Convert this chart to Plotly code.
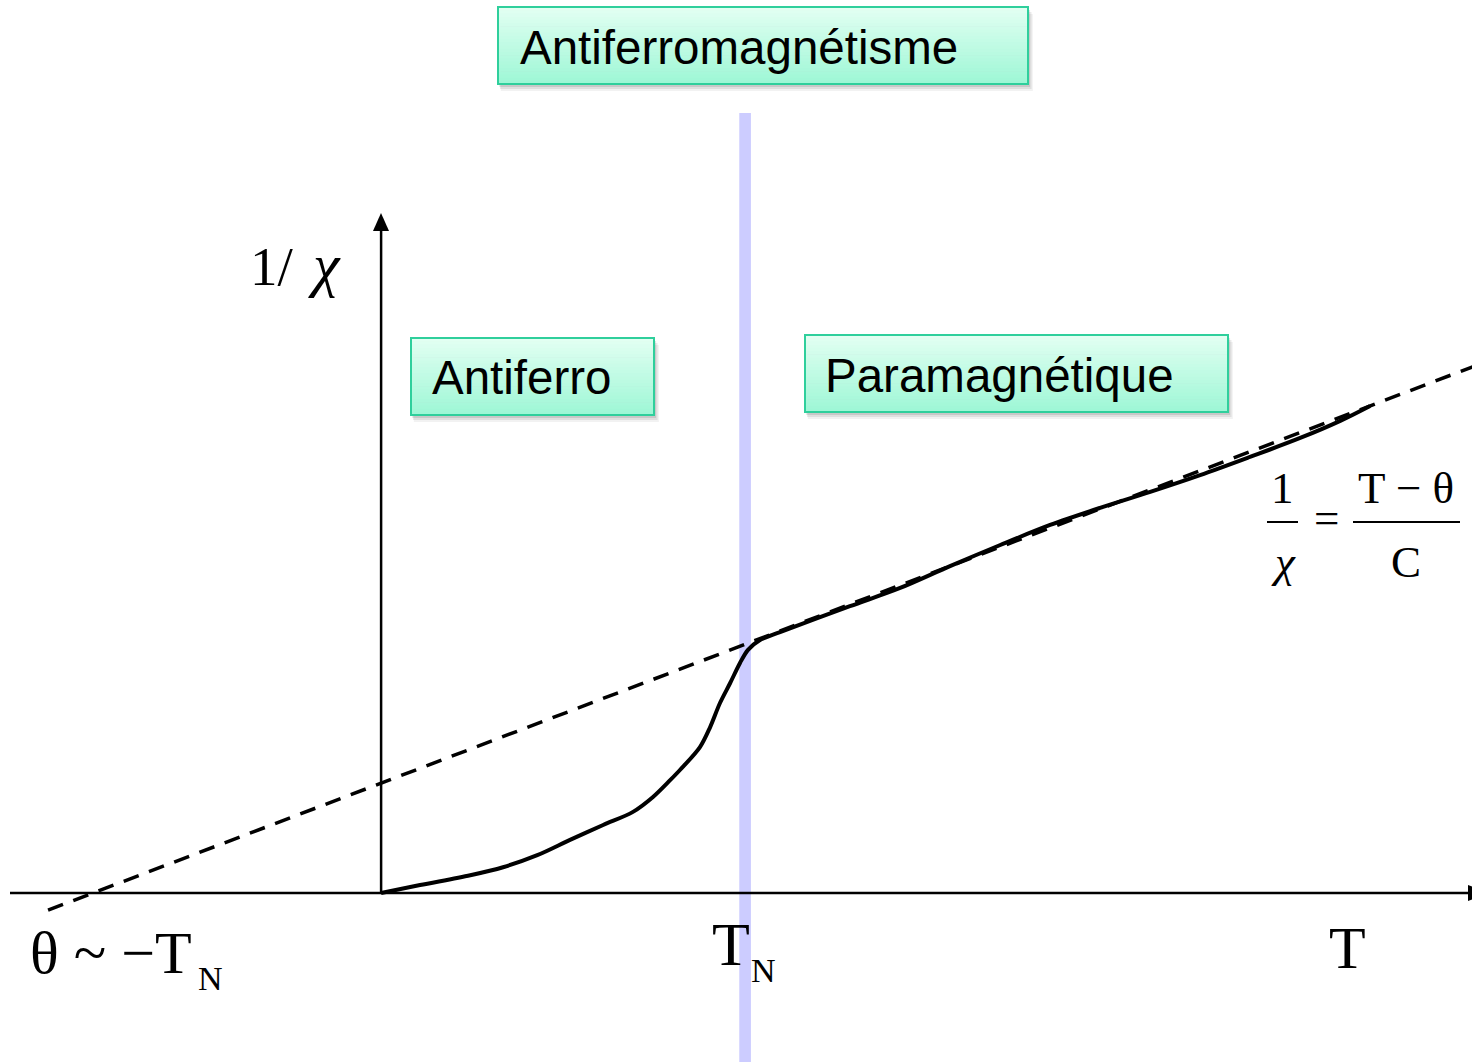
import plotly.graph_objects as go

# ---------------- data (T in units of T_N, 1/chi in arbitrary units) ----------------
T_curve = [0.0, 0.107, 0.245, 0.335, 0.429, 0.519, 0.610, 0.692, 0.747, 0.794, 0.821,
           0.876, 0.904, 0.931, 0.959, 0.986, 1.008, 1.041, 1.096, 1.288, 1.426, 1.563,
           1.701, 1.838, 1.975, 2.113, 2.250, 2.387, 2.525, 2.635, 2.717]
inv_chi_curve = [0.0, 0.022, 0.049, 0.071, 0.104, 0.146, 0.187, 0.223, 0.264, 0.310, 0.338,
                 0.401, 0.456, 0.522, 0.577, 0.632, 0.668, 0.695, 0.717, 0.788, 0.838, 0.898,
                 0.956, 1.011, 1.058, 1.102, 1.148, 1.198, 1.250, 1.297, 1.338]

# Curie-Weiss asymptote (end points)
T_cw = [-0.915, 3.0]
inv_chi_cw = [-0.047, 1.446]

T_N = 1.0

# ---------------- layout helpers ----------------
W, H = 1472, 1062
X_RANGE = [-1.047, 2.997]
Y_RANGE = [-0.464, 2.453]


def PX(x):
    return x / W


def PY(y):
    return 1 - y / H


SANS = "Liberation Sans, Arial, sans-serif"
SERIF = "Liberation Serif, Times New Roman, serif"

fig = go.Figure()

fig.add_trace(go.Scatter(x=T_cw, y=inv_chi_cw, mode="lines",
                         line=dict(color="black", width=3.5, dash="16px,11px"),
                         hoverinfo="skip"))
fig.add_trace(go.Scatter(x=T_curve, y=inv_chi_curve, mode="lines",
                         line=dict(color="black", width=4, shape="spline", smoothing=0.9),
                         hoverinfo="skip"))

shapes = []
annotations = []

# T_N band
shapes.append(dict(type="rect", xref="x", yref="paper",
                   x0=T_N - 0.016, x1=T_N + 0.016, y0=0, y1=PY(113),
                   fillcolor="#ccccff", line=dict(width=0), layer="below"))

# axes
shapes.append(dict(type="line", xref="paper", yref="y", x0=PX(10), x1=PX(1470), y0=0, y1=0,
                   line=dict(color="black", width=2.5), layer="above"))
shapes.append(dict(type="path", xref="paper", yref="paper",
                   path=f"M {PX(1468)} {PY(885)} L {PX(1490)} {PY(893)} L {PX(1468)} {PY(901)} Z",
                   fillcolor="black", line=dict(width=0), layer="above"))
shapes.append(dict(type="line", xref="x", yref="paper", x0=0, x1=0, y0=PY(893), y1=PY(228),
                   line=dict(color="black", width=2.5), layer="above"))
shapes.append(dict(type="path", xref="paper", yref="paper",
                   path=f"M {PX(373)} {PY(231)} L {PX(381)} {PY(213)} L {PX(389)} {PY(231)} Z",
                   fillcolor="black", line=dict(width=0), layer="above"))


def lerp(c1, c2, t):
    return tuple(round(a + (b - a) * t) for a, b in zip(c1, c2))


def add_box(x0, y0, x1, y1, text, tx, ty):
    for off, a in [(7, 0.05), (5, 0.08), (3, 0.10)]:
        shapes.append(dict(type="rect", xref="paper", yref="paper",
                           x0=PX(x0 + off * 0.4), x1=PX(x1 + off * 0.7),
                           y0=PY(y1 + off), y1=PY(y0 + off),
                           fillcolor=f"rgba(0,0,0,{a})", line=dict(width=0), layer="above"))
    top, bot = (226, 255, 242), (158, 247, 214)
    n = 24
    for i in range(n):
        c = lerp(top, bot, i / (n - 1))
        ya = y0 + (y1 - y0) * i / n
        yb = y0 + (y1 - y0) * (i + 1) / n + 0.6
        shapes.append(dict(type="rect", xref="paper", yref="paper",
                           x0=PX(x0), x1=PX(x1), y0=PY(min(yb, y1)), y1=PY(ya),
                           fillcolor=f"rgb{c}", line=dict(width=0), layer="above"))
    shapes.append(dict(type="rect", xref="paper", yref="paper",
                       x0=PX(x0), x1=PX(x1), y0=PY(y1), y1=PY(y0),
                       fillcolor="rgba(0,0,0,0)", line=dict(color="#2fcf9c", width=2),
                       layer="above"))
    annotations.append(dict(text=text, xref="paper", yref="paper", x=PX(tx), y=PY(ty),
                            xanchor="left", yanchor="middle", showarrow=False,
                            font=dict(family=SANS, size=47.5, color="black")))


add_box(498, 7, 1028, 84, "Antiferromagnétisme", 518, 47)
add_box(411, 338, 654, 415, "Antiferro", 430, 377)
add_box(805, 335, 1228, 412, "Paramagnétique", 823, 376)


def serif(text, x, y, size, xanchor="left"):
    annotations.append(dict(text=text, xref="paper", yref="paper", x=PX(x), y=PY(y),
                            xanchor=xanchor, yanchor="middle", showarrow=False,
                            font=dict(family=SERIF, size=size, color="black")))


# labels (y given as text box centre = baseline - 0.34*size)
serif("1/", 248, 285 - 0.34 * 55, 55)
serif("<i>χ</i>", 306, 285 - 0.34 * 60, 60)
serif("θ ~ −T", 28, 973 - 0.34 * 60, 60)
serif("N", 196, 990 - 0.34 * 34, 34)
serif("T", 731, 965 - 0.34 * 62, 62, "center")
serif("N", 749, 982 - 0.34 * 34, 34)
serif("T", 1347, 968 - 0.34 * 60, 60, "center")

# formula 1/chi = (T - theta)/C
serif("1", 1282, 503 - 0.34 * 45, 45, "center")
serif("<i>χ</i>", 1283, 577 - 0.34 * 45, 45, "center")
serif("=", 1326, 533 - 0.34 * 45, 45, "center")
serif("T − θ", 1406, 503 - 0.34 * 45, 45, "center")
serif("C", 1406, 577 - 0.34 * 45, 45, "center")
shapes.append(dict(type="line", xref="paper", yref="paper", x0=PX(1267), x1=PX(1298),
                   y0=PY(522), y1=PY(522), line=dict(color="black", width=2), layer="above"))
shapes.append(dict(type="line", xref="paper", yref="paper", x0=PX(1353), x1=PX(1460),
                   y0=PY(522), y1=PY(522), line=dict(color="black", width=2), layer="above"))

fig.update_layout(
    width=W, height=H,
    margin=dict(l=0, r=0, t=0, b=0),
    paper_bgcolor="white", plot_bgcolor="white",
    showlegend=False,
    xaxis=dict(range=X_RANGE, visible=False, fixedrange=True),
    yaxis=dict(range=Y_RANGE, visible=False, fixedrange=True),
    shapes=shapes, annotations=annotations,
)

fig.write_html("out.html",
               config={"displayModeBar": False},
               post_script="document.body.style.margin='0px';"
                           "document.body.style.overflow='hidden';")
